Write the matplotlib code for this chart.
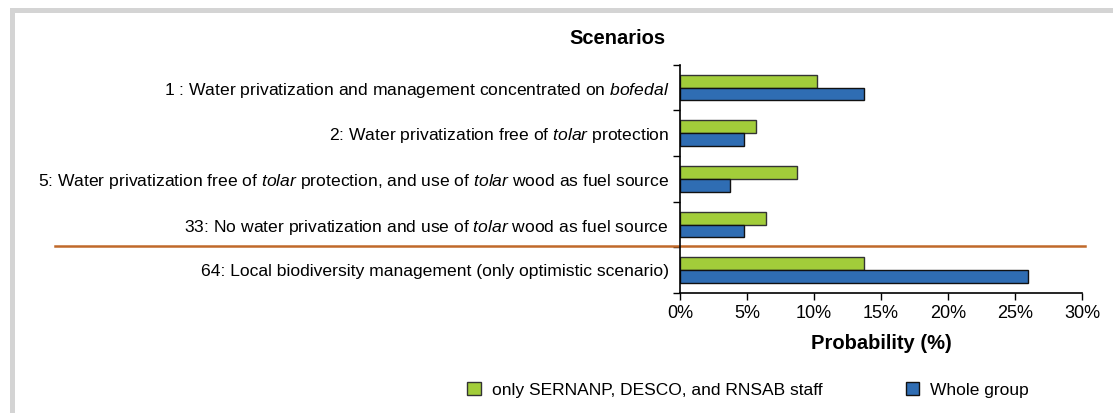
import matplotlib
matplotlib.use("Agg")
import matplotlib.pyplot as plt
from matplotlib.lines import Line2D
from matplotlib.patches import Rectangle, Patch
from matplotlib.transforms import blended_transform_factory
from matplotlib import font_manager

names = {f.name for f in font_manager.fontManager.ttflist}
FONT = "Liberation Sans Narrow" if "Liberation Sans Narrow" in names else "Liberation Sans"
plt.rcParams["font.family"] = FONT
plt.rcParams["mathtext.fontset"] = "custom"
plt.rcParams["mathtext.rm"] = FONT
plt.rcParams["mathtext.it"] = FONT + ":italic"

scenarios = [
    r"1 : Water privatization and management concentrated on $\mathit{bofedal}$",
    r"2: Water privatization free of $\mathit{tolar}$ protection",
    r"5: Water privatization free of $\mathit{tolar}$ protection, and use of $\mathit{tolar}$ wood as fuel source",
    r"33: No water privatization and use of $\mathit{tolar}$ wood as fuel source",
    "64: Local biodiversity management (only optimistic scenario)",
]
staff = [10.2, 5.7, 8.7, 6.4, 13.75]
whole = [13.7, 4.8, 3.7, 4.8, 26.0]
xticks = [0, 5, 10, 15, 20, 25, 30]

fig = plt.figure(figsize=(11.13, 4.13), dpi=100)
ax = fig.add_axes([680 / 1113, 1 - 293 / 413, 402 / 1113, 228.3 / 413])

ypos = list(range(len(scenarios)))
h = 0.28
ax.barh([y - 0.14 for y in ypos], staff, height=h, color="#A2CD3A",
        edgecolor="#333333", linewidth=1.0, label="only SERNANP, DESCO, and RNSAB staff")
ax.barh([y + 0.14 for y in ypos], whole, height=h, color="#2F6DB3",
        edgecolor="#111111", linewidth=1.0, label="Whole group")

ax.set_ylim(len(scenarios) - 0.5, -0.5)
ax.set_xlim(0, 30)
ax.set_xticks(xticks)
ax.set_xticklabels([f"{v}%" for v in xticks], fontsize=13)
ax.set_yticks(ypos)
ax.set_yticklabels(scenarios, fontsize=12.6)
ax.tick_params(axis="y", length=0, pad=8)
ax.set_yticks([y - 0.5 for y in ypos] + [len(ypos) - 0.5], minor=True)
ax.tick_params(axis="y", which="minor", length=5, width=1)
ax.tick_params(axis="x", length=5, width=1, pad=4)
for s in ["top", "right"]:
    ax.spines[s].set_visible(False)
ax.spines["left"].set_linewidth(1.2)
ax.spines["bottom"].set_linewidth(1.2)

ax.set_xlabel("Probability (%)", fontsize=14.5, fontweight="bold", labelpad=8)
fig.text(617 / 1113, 1 - 38 / 413, "Scenarios", fontsize=14.5, fontweight="bold",
         ha="center", va="center")

# separator between pessimistic and optimistic scenarios
tr = blended_transform_factory(ax.transAxes, ax.transData)
ax.add_line(Line2D([(55 - 680) / 402, (1085 - 680) / 402], [3.46, 3.46],
                   transform=tr, color="#C0692A", linewidth=1.8, clip_on=False))

# light gray frame
fig.add_artist(Rectangle((10 / 1113, 0), 5 / 1113, 1 - 8 / 413, transform=fig.transFigure,
                         facecolor="#D4D4D4", edgecolor="none"))
fig.add_artist(Rectangle((10 / 1113, 1 - 13 / 413), 1, 5 / 413, transform=fig.transFigure,
                         facecolor="#D4D4D4", edgecolor="none"))

handles = [Patch(facecolor="#A2CD3A", edgecolor="#333333"),
           Patch(facecolor="#2F6DB3", edgecolor="#111111")]
fig.legend(handles, ["only SERNANP, DESCO, and RNSAB staff", "Whole group"],
           loc="center", bbox_to_anchor=(748 / 1113, 1 - 390 / 413), ncol=2,
           frameon=False, fontsize=12.5, columnspacing=4.8, handlelength=0.8,
           handleheight=0.8, handletextpad=0.6)

fig.savefig("out.png", dpi=100)
